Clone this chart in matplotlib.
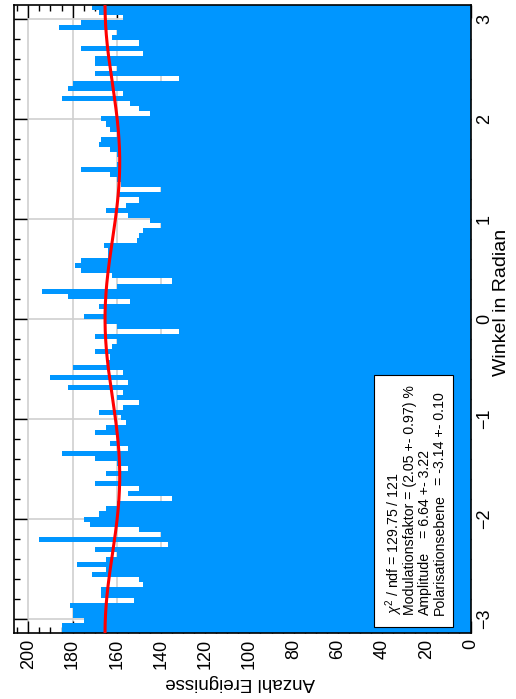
import numpy as np
import matplotlib
matplotlib.use('Agg')
from matplotlib import pyplot as plt
from matplotlib.ticker import MultipleLocator
from matplotlib.patches import Rectangle

plt.rcParams['font.family'] = ['Liberation Sans', 'DejaVu Sans']
plt.rcParams['mathtext.fontset'] = 'custom'
plt.rcParams['mathtext.rm'] = 'Liberation Sans'
plt.rcParams['mathtext.it'] = 'Liberation Sans:italic'

counts_top_down = [
    171, 168, 157, 176, 186, 160, 162, 150, 176, 148,
    170, 170, 160, 170, 132, 180, 182, 157, 185, 154,
    150, 145, 167, 165, 163, 160, 167, 168, 163, 160,
    158, 160, 176, 163, 160, 158, 140, 160, 150, 156,
    165, 155, 145, 140, 148, 150, 151, 166, 164, 164,
    176, 179, 176, 162, 135, 160, 194, 182, 154, 168,
    165, 175, 165, 160, 132, 170, 160, 162, 170, 163,
    164, 180, 157, 190, 155, 182, 157, 160, 150, 157,
    168, 158, 156, 165, 170, 160, 163, 155, 185, 170,
    160, 155, 165, 158, 170, 150, 155, 135, 160, 165,
    168, 175, 172, 150, 140, 195, 137, 170, 160, 165,
    178, 165, 171, 150, 148, 167, 167, 152, 181, 180,
    180, 175, 185, 185,
]
counts = counts_top_down[::-1]

# fit result shown in the stat box
fit_offset = 162.0
fit_modulation = 0.0205
fit_phase = -3.14

stat_lines = [
    r'$\chi^{2}$ / ndf = 129.75 / 121',
    'Modulationsfaktor = (2.05 +- 0.97) %',
    'Amplitude',
    'Polarisationsebene',
]
stat_values = ['= 6.64 +- 3.22', '= -3.14 +- 0.10']

W, H = 516, 699
hist_color = '#0096ff'


def fx(px):
    return px / W


def fy(py):
    return (H - py) / H


def main():
    fig = plt.figure(figsize=(W / 100, H / 100), dpi=100)
    ax = fig.add_axes([fx(14), fy(633), (470.5 - 14) / W, (633 - 5) / H])

    edges = np.linspace(-np.pi, np.pi, len(counts) + 1)
    ax.stairs(counts, edges, orientation='horizontal', fill=True,
              color=hist_color, lw=0, zorder=1)

    phi = np.linspace(-np.pi, np.pi, 400)
    fit = fit_offset * (1 + fit_modulation * np.cos(2 * (phi - fit_phase)))
    ax.plot(fit, phi, color='red', lw=2.2, zorder=3)

    ax.set_xlim(206.5, 0)
    ax.set_ylim(-np.pi, np.pi)

    ax.xaxis.set_major_locator(MultipleLocator(20))
    ax.xaxis.set_minor_locator(MultipleLocator(5))
    ax.yaxis.set_major_locator(MultipleLocator(1))
    ax.yaxis.set_minor_locator(MultipleLocator(0.2))

    ax.grid(True, which='major', color='#d0d0d0', lw=1.2)
    ax.set_axisbelow(True)

    ax.tick_params(which='both', direction='in', top=True, bottom=True,
                   left=True, right=True, labelleft=False, labelright=True,
                   width=1.0, color='black')
    ax.tick_params(which='major', length=9)
    ax.tick_params(which='minor', length=4.5)
    ax.tick_params(axis='x', labelrotation=90, labelsize=13, pad=4)
    ax.tick_params(axis='y', labelrotation=90, labelsize=13, pad=4)
    for lab in ax.get_yticklabels():
        lab.set_verticalalignment('center')
    for sp in ax.spines.values():
        sp.set_linewidth(1.2)

    fig.text(fx(240), fy(683), 'Anzahl Ereignisse', rotation=180,
             ha='center', va='center', fontsize=13.5)
    fig.text(fx(502), fy(302), 'Winkel in Radian', rotation=90,
             ha='center', va='center', fontsize=14)

    box = Rectangle((fx(374), fy(627)), (453 - 374) / W, (627 - 375) / H,
                    transform=fig.transFigure, facecolor='white',
                    edgecolor='black', lw=0.8, zorder=5)
    fig.add_artist(box)

    baselines = [399, 414, 429, 444]
    for x, line in zip(baselines, stat_lines):
        fig.text(fx(x), fy(615), line, rotation=90, rotation_mode='anchor',
                 ha='left', va='baseline', fontsize=10.2, zorder=6)
    # value columns end at the upper edge of the text block
    for x, y, val in zip(baselines[2:], [450, 392], stat_values):
        fig.text(fx(x), fy(y), val, rotation=90, rotation_mode='anchor',
                 ha='right', va='baseline', fontsize=10.2, zorder=6)

    fig.savefig('out.png', dpi=100)


if __name__ == '__main__':
    main()
